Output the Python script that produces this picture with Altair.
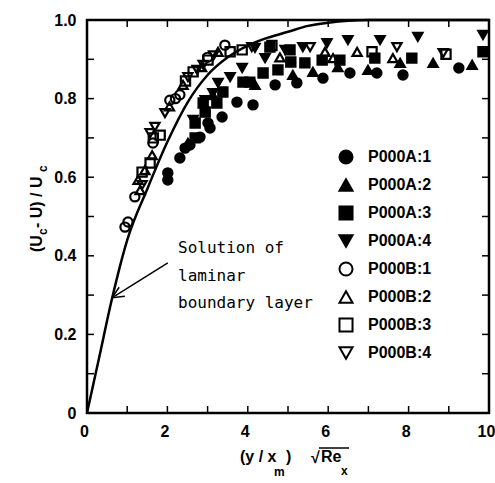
import altair as alt
import pandas as pd

# ---------------- data ----------------
series_names = ["P000A:1", "P000A:2", "P000A:3", "P000A:4",
                "P000B:1", "P000B:2", "P000B:3", "P000B:4"]
series_shapes = ["circle", "triangle-up", "square", "triangle-down",
                 "circle", "triangle-up", "square", "triangle-down"]
series_fills = ["black"] * 4 + ["transparent"] * 4
series_strokes = ["black"] * 8

a1_x = [2.01, 2.01, 2.31, 2.44, 2.56, 2.81, 3.01, 3.06, 3.36, 3.73, 4.13, 4.68, 5.22, 5.87, 6.54, 7.21, 7.86, 9.25]
a1_y = [0.593, 0.611, 0.649, 0.674, 0.682, 0.702, 0.738, 0.725, 0.753, 0.791, 0.784, 0.835, 0.840, 0.852, 0.865, 0.865, 0.860, 0.878]
a2_x = [2.51, 3.13, 4.18, 5.12, 5.62, 6.24, 6.99, 7.79, 8.61, 9.58]
a2_y = [0.687, 0.809, 0.835, 0.860, 0.868, 0.880, 0.873, 0.891, 0.891, 0.886]
a3_x = [2.69, 2.69, 2.94, 2.89, 3.23, 3.38, 3.88, 4.05, 4.38, 4.75, 5.07, 5.42, 4.55, 5.05, 5.85, 6.29, 7.16, 8.08, 9.85]
a3_y = [0.700, 0.738, 0.766, 0.789, 0.789, 0.817, 0.842, 0.842, 0.865, 0.873, 0.893, 0.891, 0.931, 0.924, 0.898, 0.898, 0.903, 0.903, 0.919]
a4_x = [2.64, 2.94, 3.13, 3.26, 3.56, 3.86, 4.18, 4.43, 4.93, 5.37, 5.97, 6.49, 7.29, 8.23, 9.85]
a4_y = [0.746, 0.796, 0.814, 0.840, 0.855, 0.878, 0.929, 0.903, 0.924, 0.931, 0.941, 0.949, 0.949, 0.957, 0.962]
b1_x = [0.945, 1.02, 1.19, 1.64, 2.06, 2.20, 2.31, 3.00, 3.43]
b1_y = [0.473, 0.486, 0.550, 0.687, 0.796, 0.800, 0.810, 0.905, 0.936]
b2_x = [1.32, 1.27, 1.44, 1.62, 2.05, 2.39, 2.85, 3.26, 4.80, 5.92, 6.12, 6.72, 7.61]
b2_y = [0.567, 0.593, 0.618, 0.656, 0.780, 0.835, 0.880, 0.919, 0.905, 0.919, 0.903, 0.919, 0.903]
b3_x = [1.37, 1.57, 1.65, 1.82, 2.45, 2.64, 3.01, 3.56, 3.86, 4.60, 7.09, 8.93]
b3_y = [0.613, 0.636, 0.700, 0.707, 0.845, 0.868, 0.898, 0.919, 0.924, 0.935, 0.919, 0.913]
b4_x = [1.37, 1.57, 1.69, 1.94, 2.51, 2.74, 2.89, 3.15, 4.10, 5.55, 7.71, 8.86]
b4_y = [0.580, 0.712, 0.728, 0.763, 0.855, 0.873, 0.886, 0.910, 0.931, 0.931, 0.931, 0.916]

curve_x = [0, 0.3, 0.62, 1.0, 1.5, 2.0, 2.5, 3.0, 3.5, 4.0, 4.5, 5.0, 5.5, 6.0, 6.5, 7.0, 8.0, 10.0]
curve_y = [0, 0.14, 0.29, 0.44, 0.57, 0.69, 0.79, 0.86, 0.905, 0.935, 0.955, 0.97, 0.985, 0.993, 0.998, 1.0, 1.0, 1.0]

x_label_values = [0, 2, 4, 6, 8, 10]
y_label_values = [0, 0.2, 0.4, 0.6, 0.8, 1.0]
x_minor = [1, 2, 3, 4, 5, 6, 7, 8, 9]
y_minor = [0.1, 0.2, 0.3, 0.4, 0.5, 0.6, 0.7, 0.8, 0.9]

note_lines = ["Solution of", "laminar", "boundary layer"]
arrow_x = [2.01, 0.62]
arrow_y = [0.382, 0.293]
arrow_head_x = [0.943, 0.80]
arrow_head_y = [0.297, 0.320]

# ---------------- layout ----------------
W, H = 402, 393
FONT = "Liberation Sans"

xs = [a1_x, a2_x, a3_x, a4_x, b1_x, b2_x, b3_x, b4_x]
ys = [a1_y, a2_y, a3_y, a4_y, b1_y, b2_y, b3_y, b4_y]
rows = []
for name, sx, sy in zip(series_names, xs, ys):
    for xv, yv in zip(sx, sy):
        rows.append({"s": name, "x": xv, "y": yv})
pts = pd.DataFrame(rows)

xscale = alt.Scale(domain=[0, 10], nice=False, zero=False)
yscale = alt.Scale(domain=[0, 1], nice=False, zero=False)

xaxis = alt.Axis(values=x_label_values, format="d", title=None, ticks=False, domain=False,
                 grid=False, labelFont=FONT, labelFontWeight="bold", labelFontSize=16,
                 labelColor="black", labelPadding=10, labelOffset=-3, labelFlush=False)
yaxis = alt.Axis(values=y_label_values, title=None, ticks=False, domain=False, grid=False,
                 labelExpr="datum.value == 0 ? '0' : format(datum.value, '.1f')",
                 labelFont=FONT, labelFontWeight="bold", labelFontSize=16,
                 labelColor="black", labelPadding=11)

legend = alt.Legend(title=None, orient="none", legendX=251, legendY=129,
                    labelFont=FONT, labelFontWeight="bold", labelFontSize=16,
                    labelColor="black", symbolSize=170, symbolStrokeWidth=2,
                    labelOffset=14, rowPadding=7, padding=0)

points = alt.Chart(pts).mark_point(size=85, strokeWidth=2.2, opacity=1).encode(
    x=alt.X("x:Q", scale=xscale, axis=xaxis),
    y=alt.Y("y:Q", scale=yscale, axis=yaxis),
    shape=alt.Shape("s:N", scale=alt.Scale(domain=series_names, range=series_shapes), legend=legend),
    fill=alt.Fill("s:N", scale=alt.Scale(domain=series_names, range=series_fills), legend=legend),
    stroke=alt.Stroke("s:N", scale=alt.Scale(domain=series_names, range=series_strokes), legend=legend),
)

curve = alt.Chart(pd.DataFrame({"x": curve_x, "y": curve_y})).mark_line(
    color="black", strokeWidth=2.5, interpolate="monotone").encode(
    x=alt.X("x:Q", scale=xscale), y=alt.Y("y:Q", scale=yscale))

# inward ticks on all four sides
tl = 7
xt = pd.DataFrame({"v": x_minor})
yt = pd.DataFrame({"v": y_minor})
tick_b = alt.Chart(xt).mark_rule(color="black", strokeWidth=1.5).encode(
    x=alt.X("v:Q", scale=xscale), y=alt.value(H), y2=alt.value(H - tl))
tick_t = alt.Chart(xt).mark_rule(color="black", strokeWidth=1.5).encode(
    x=alt.X("v:Q", scale=xscale), y=alt.value(0), y2=alt.value(tl))
tick_l = alt.Chart(yt).mark_rule(color="black", strokeWidth=1.5).encode(
    y=alt.Y("v:Q", scale=yscale), x=alt.value(0), x2=alt.value(tl))
tick_r = alt.Chart(yt).mark_rule(color="black", strokeWidth=1.5).encode(
    y=alt.Y("v:Q", scale=yscale), x=alt.value(W), x2=alt.value(W - tl))

# annotation
note_layers = []
for i, line in enumerate(note_lines):
    note_layers.append(
        alt.Chart(pd.DataFrame({"t": [line]})).mark_text(
            font="DejaVu Sans Mono", fontSize=16, align="left", baseline="alphabetic",
            color="black").encode(text="t:N", x=alt.value(91), y=alt.value(233 + 27.5 * i)))

arrow = alt.Chart(pd.DataFrame({"x": [arrow_x[0]], "y": [arrow_y[0]],
                                "x2": [arrow_x[1]], "y2": [arrow_y[1]]})).mark_rule(
    color="black", strokeWidth=1.5).encode(
    x=alt.X("x:Q", scale=xscale), y=alt.Y("y:Q", scale=yscale), x2="x2:Q", y2="y2:Q")
head = alt.Chart(pd.DataFrame({"x": arrow_head_x, "y": arrow_head_y,
                               "x2": [arrow_x[1]] * 2, "y2": [arrow_y[1]] * 2})).mark_rule(
    color="black", strokeWidth=1.5).encode(
    x=alt.X("x:Q", scale=xscale), y=alt.Y("y:Q", scale=yscale), x2="x2:Q", y2="y2:Q")

def txt(s, x, y, size=16, angle=None):
    kw = dict(font=FONT, fontWeight="bold", fontSize=size, align="left",
              baseline="alphabetic", color="black")
    if angle is not None:
        kw["angle"] = angle
    return alt.Chart(pd.DataFrame({"t": [s]})).mark_text(**kw).encode(
        text="t:N", x=alt.value(x), y=alt.value(y))

# x title: (y / x_m) sqrt(Re_x)
xt_layers = [
    txt("(y / x", 153, 442),
    txt("m", 187, 456, 12),
    txt(")", 199, 442),
    txt("\u221a", 224, 443, 16),
    txt("Re", 234, 442),
    txt("x", 254, 455, 12),
]
overline = alt.Chart(pd.DataFrame({"a": [0]})).mark_rule(color="black", strokeWidth=1.5).encode(
    x=alt.value(232), x2=alt.value(262), y=alt.value(428))

# y title: (U_c - U) / U_c  (rotated)
yt_layers = [
    txt("(U", -45, 232, 16, 270),
    txt("c", -40, 215, 12, 270),
    txt(" - U) / U", -45, 208, 16, 270),
    txt("c", -40, 152, 12, 270),
]

chart = alt.layer(
    curve, points, tick_b, tick_t, tick_l, tick_r, arrow, head, overline,
    *note_layers, *xt_layers, *yt_layers
).properties(
    width=W, height=H,
    padding={"left": 87, "top": 20, "right": 6, "bottom": 70},
    autosize=alt.AutoSizeParams(type="none"),
    background="white",
).configure_view(stroke="black", strokeWidth=2.5)

chart.save("out.html", embed_options={"renderer": "svg", "actions": False})
